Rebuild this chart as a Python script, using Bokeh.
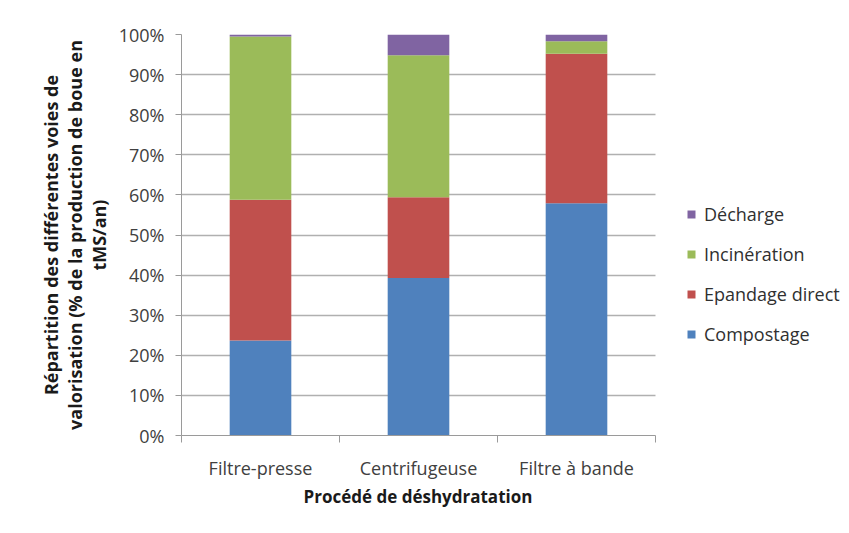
from bokeh.plotting import figure
from bokeh.models import Range1d, FixedTicker, PrintfTickFormatter, Legend, LegendItem, ColumnDataSource, Title
from bokeh.embed import file_html
from bokeh.resources import INLINE

categories = ["Filtre-presse", "Centrifugeuse", "Filtre à bande"]
series = ["Compostage", "Epandage direct", "Incinération", "Décharge"]
compostage = [23.7, 39.3, 57.9]
epandage = [35.1, 20.1, 37.3]
incineration = [40.7, 35.4, 3.1]
decharge = [0.5, 5.2, 1.7]
colors = ["#4F81BD", "#C0504D", "#9BBB59", "#8064A2"]
y_ticks = [0, 10, 20, 30, 40, 50, 60, 70, 80, 90, 100]
x_title = "Procédé de déshydratation"

FONT = "Open Sans"

# layout (pixels)
W, H = 845, 528
LEFT, TOP, BOTTOM = 181, 34, 93
CAT_AREA_W = 474          # width of the category area (axis extent)
FRAME_W = W - LEFT        # frame extends to the right to host the legend
n = len(categories)
x_end = n * FRAME_W / CAT_AREA_W

xs = [i + 0.5 for i in range(n)]
source = ColumnDataSource(dict(
    x=xs,
    Compostage=compostage,
    **{"Epandage direct": epandage, "Incinération": incineration, "Décharge": decharge},
))

p = figure(width=W, height=H, output_backend="svg", toolbar_location=None,
           x_range=Range1d(0, x_end), y_range=Range1d(0, 100),
           min_border_left=LEFT, min_border_right=0, min_border_top=TOP, min_border_bottom=BOTTOM)
p.outline_line_color = None
p.background_fill_color = "white"
p.border_fill_color = "white"
p.xgrid.grid_line_color = None

# horizontal gridlines limited to the category area
grid = p.ygrid[0]
if "cross_bounds" in grid.properties():
    grid.ticker = FixedTicker(ticks=y_ticks)
    grid.grid_line_color = "#b0b0b0"
    grid.grid_line_width = 1.5
    grid.cross_bounds = (0, n)
else:
    grid.grid_line_color = None
    p.segment(x0=[0] * len(y_ticks), x1=[n] * len(y_ticks), y0=y_ticks, y1=y_ticks,
              line_color="#b0b0b0", line_width=1.5)

renderers = p.vbar_stack(series, x="x", width=0.39, source=source, color=colors, line_color=None)

# y axis
p.yaxis.ticker = FixedTicker(ticks=y_ticks)
p.yaxis.formatter = PrintfTickFormatter(format="%d%%")
p.yaxis.axis_line_color = "#9a9a9a"
p.yaxis.major_tick_line_color = "#9a9a9a"
p.yaxis.major_tick_out = 6
p.yaxis.major_tick_in = 0
p.yaxis.minor_tick_line_color = None
p.yaxis.major_label_text_font = FONT
p.yaxis.major_label_text_font_size = "18px"
p.yaxis.major_label_text_color = "#404040"
p.yaxis.major_label_standoff = 11
p.yaxis.axis_label = "Répartition des différentes voies de\nvalorisation (% de la production de boue en\ntMS/an)"
p.yaxis.axis_label_text_font = FONT
p.yaxis.axis_label_text_font_style = "bold"
p.yaxis.axis_label_text_font_size = "18px"
p.yaxis.axis_label_text_line_height = 1.0
p.yaxis.axis_label_text_color = "#1a1a1a"
p.yaxis.axis_label_standoff = 5

# x axis
p.xaxis.bounds = (0, n)
p.xaxis.ticker = FixedTicker(ticks=xs, minor_ticks=list(range(n + 1)))
p.xaxis.major_label_overrides = {x: c for x, c in zip(xs, categories)}
p.xaxis.axis_line_color = "#9a9a9a"
p.xaxis.major_tick_line_color = None
p.xaxis.minor_tick_line_color = "#9a9a9a"
p.xaxis.minor_tick_out = 7
p.xaxis.minor_tick_in = 0
p.xaxis.major_label_text_font = FONT
p.xaxis.major_label_text_font_size = "18px"
p.xaxis.major_label_text_color = "#404040"
p.xaxis.major_label_standoff = 13

# x-axis title, centred under the category area
p.add_layout(Title(text=x_title, align="left", offset=122, standoff=0,
                   text_font=FONT, text_font_style="bold", text_font_size="17px",
                   text_color="#1a1a1a"), "below")

items = [LegendItem(label=s, renderers=[r]) for s, r in zip(series, renderers)][::-1]
legend = Legend(items=items, location=(505, 89), orientation="vertical",
                glyph_width=10, glyph_height=10, label_height=20, spacing=16,
                label_standoff=8, padding=0, margin=0, border_line_color=None,
                background_fill_alpha=0,
                label_text_font=FONT, label_text_font_size="18px", label_text_color="#303030")
p.add_layout(legend)

open("out.html", "w").write(file_html(p, INLINE))
